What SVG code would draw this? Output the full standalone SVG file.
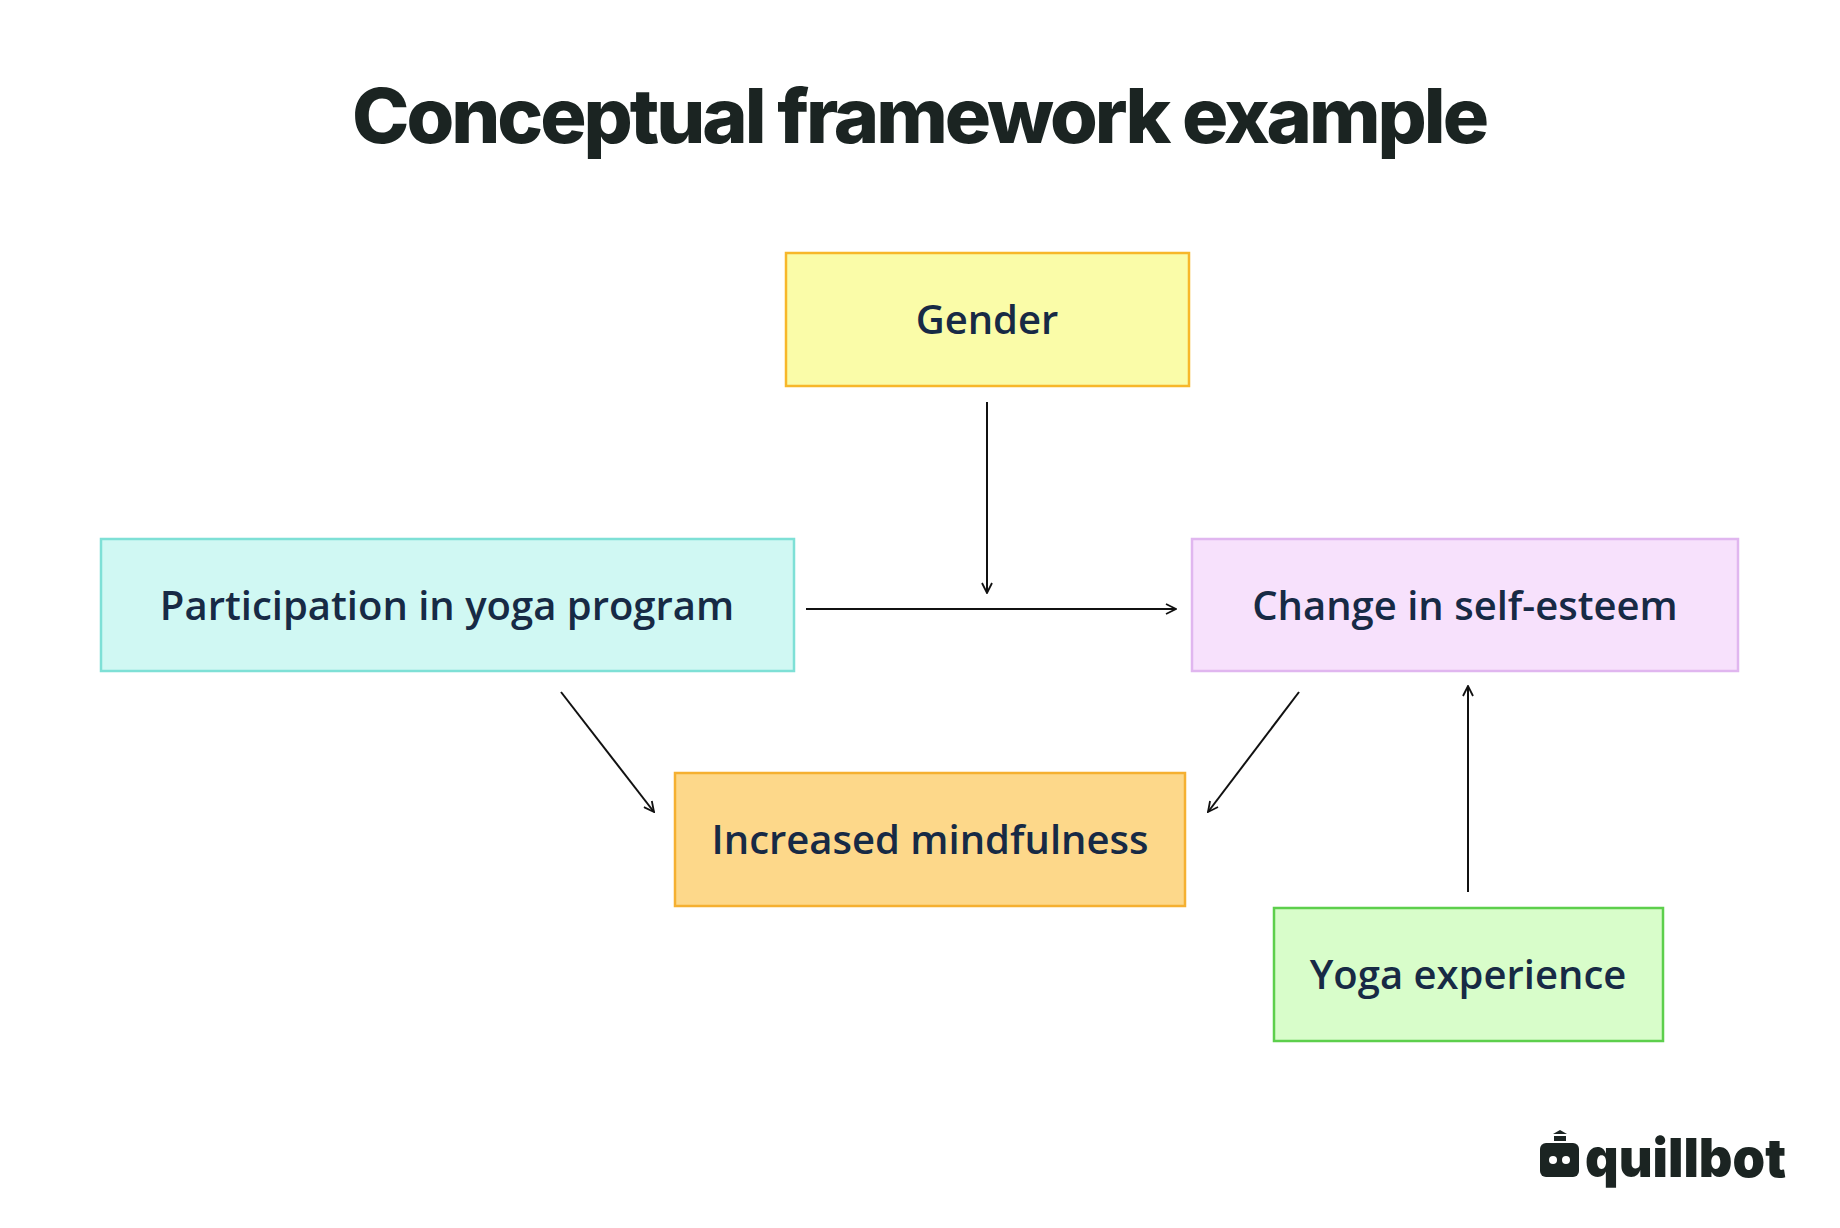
<svg xmlns="http://www.w3.org/2000/svg" width="1840" height="1228" viewBox="0 0 1840 1228">
<style>
.box{stroke-width:2.5}
.lbl{font-family:"Open Sans","Noto Sans",sans-serif;font-weight:600;font-size:40px;fill:#172a45;text-anchor:middle;dominant-baseline:central}
.c{stroke:#111;stroke-width:2;fill:none;marker-end:url(#ah)}
</style>
<defs>
<marker id="ah" viewBox="0 0 12 12" refX="11" refY="6" markerWidth="12" markerHeight="12" markerUnits="userSpaceOnUse" orient="auto"><path d="M1,1 L11,6 L1,11" fill="none" stroke="#111" stroke-width="1.8"/></marker>
</defs>
<rect width="1840" height="1228" fill="#fff"/>
<text x="919" y="143" text-anchor="middle" font-family="Inter,sans-serif" font-weight="800" font-size="76" letter-spacing="-3" fill="#1b2422" textLength="1134" lengthAdjust="spacingAndGlyphs">Conceptual framework example</text>
<g id="gender"><rect class="box" x="786" y="253" width="403" height="133" fill="#fafca8" stroke="#f7b72a"/><text class="lbl" x="987" y="318">Gender</text></g>
<g id="participation"><rect class="box" x="101" y="539" width="693" height="132" fill="#d0f8f3" stroke="#7ee0d6"/><text class="lbl" x="447" y="604">Participation in yoga program</text></g>
<g id="selfesteem"><rect class="box" x="1192" y="539" width="546" height="132" fill="#f7e1fc" stroke="#e0b6ef"/><text class="lbl" x="1465" y="604">Change in self-esteem</text></g>
<g id="mindfulness"><rect class="box" x="675" y="773" width="510" height="133" fill="#fdd88a" stroke="#f5b031"/><text class="lbl" x="930" y="838">Increased mindfulness</text></g>
<g id="experience"><rect class="box" x="1274" y="908" width="389" height="133" fill="#d8fdca" stroke="#5dcf4c"/><text class="lbl" x="1468" y="973">Yoga experience</text></g>
<g id="connectors">
<line class="c" x1="987" y1="402" x2="987" y2="593"/>
<line class="c" x1="806" y1="609" x2="1176" y2="609"/>
<line class="c" x1="561" y1="692" x2="654" y2="812"/>
<line class="c" x1="1299" y1="692" x2="1208" y2="812"/>
<line class="c" x1="1468" y1="892" x2="1468" y2="686"/>
</g>
<g id="logo" fill="#1b2422">
<path d="M1553,1134 L1560,1130 L1567,1134 Z"/>
<rect x="1554" y="1136" width="12" height="5"/>
<rect x="1540" y="1143" width="39" height="34" rx="6"/>
<circle cx="1553" cy="1160" r="4" fill="#fff"/>
<circle cx="1566" cy="1160" r="4" fill="#fff"/>
<text x="1585" y="1177" font-family="Inter,sans-serif" font-weight="900" font-size="54" textLength="201" lengthAdjust="spacingAndGlyphs">quillbot</text>
</g>
</svg>
